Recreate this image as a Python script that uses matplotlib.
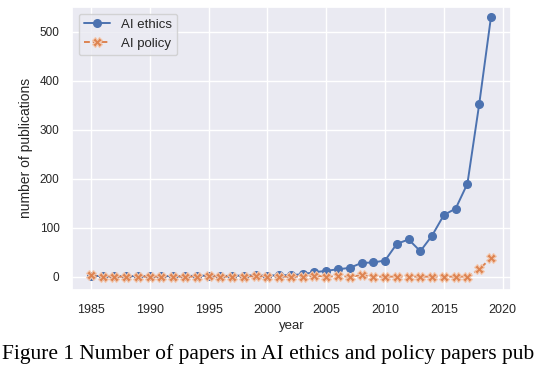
import numpy as np
import matplotlib.pyplot as plt
import seaborn as sns

# Datos
years = np.arange(1985, 2020)
ethics = [2, 1, 1, 1, 1, 1, 1, 1, 1, 2, 2, 1, 2, 2, 3, 2, 3, 3, 5,
          9, 12, 15, 18, 28, 29, 33, 67, 76, 52, 84, 126, 139, 190, 352, 530]
policy = [3, 0, 0, 0, 0, 0, 0, 0, 0, 0, 1, 0, 0, 0, 1, 0, 0, 0, 0,
          2, 0, 1, 0, 3, 0, 0, 0, 0, 0, 0, 0, 0, 0, 15, 38]

sns.set_theme(style='darkgrid')
plt.rcParams['font.family'] = ['Liberation Sans', 'DejaVu Sans']

fig = plt.figure(figsize=(5.5, 3.66), dpi=100)
ax = fig.add_axes([0.131, 0.208, 0.798, 0.773])

ax.plot(years, ethics, color='#4c72b0', marker='o', markersize=5.5,
        markeredgecolor='#4c72b0', linewidth=1.4, label='AI ethics')
ax.plot(years, policy, color='#dd8452', marker='X', markersize=6.5,
        markeredgecolor='#f3c9b0', markeredgewidth=0.8, linewidth=1.4,
        dashes=(3, 1.5), label='AI policy')

ax.set_xlim(1983.4, 2020.7)
ax.set_ylim(-27, 551)
ax.set_xticks(range(1985, 2021, 5))
ax.tick_params(axis='x', labelsize=9, pad=4)
ax.tick_params(axis='y', labelsize=8.5, pad=3)
ax.set_xlabel('year', fontsize=9.5, labelpad=3)
ax.set_ylabel('number of publications', fontsize=10, labelpad=5)
ax.legend(loc='upper left', fontsize=9.5, borderaxespad=0.5)

# pie de figura (en la referencia se ve hasta "pub")
fig.text(0.003, 0.018, 'Figure 1 Number of papers in AI ethics and policy papers pub',
         fontsize=15.5, family='Liberation Serif', color='black')

fig.savefig('out.png', dpi=100)
